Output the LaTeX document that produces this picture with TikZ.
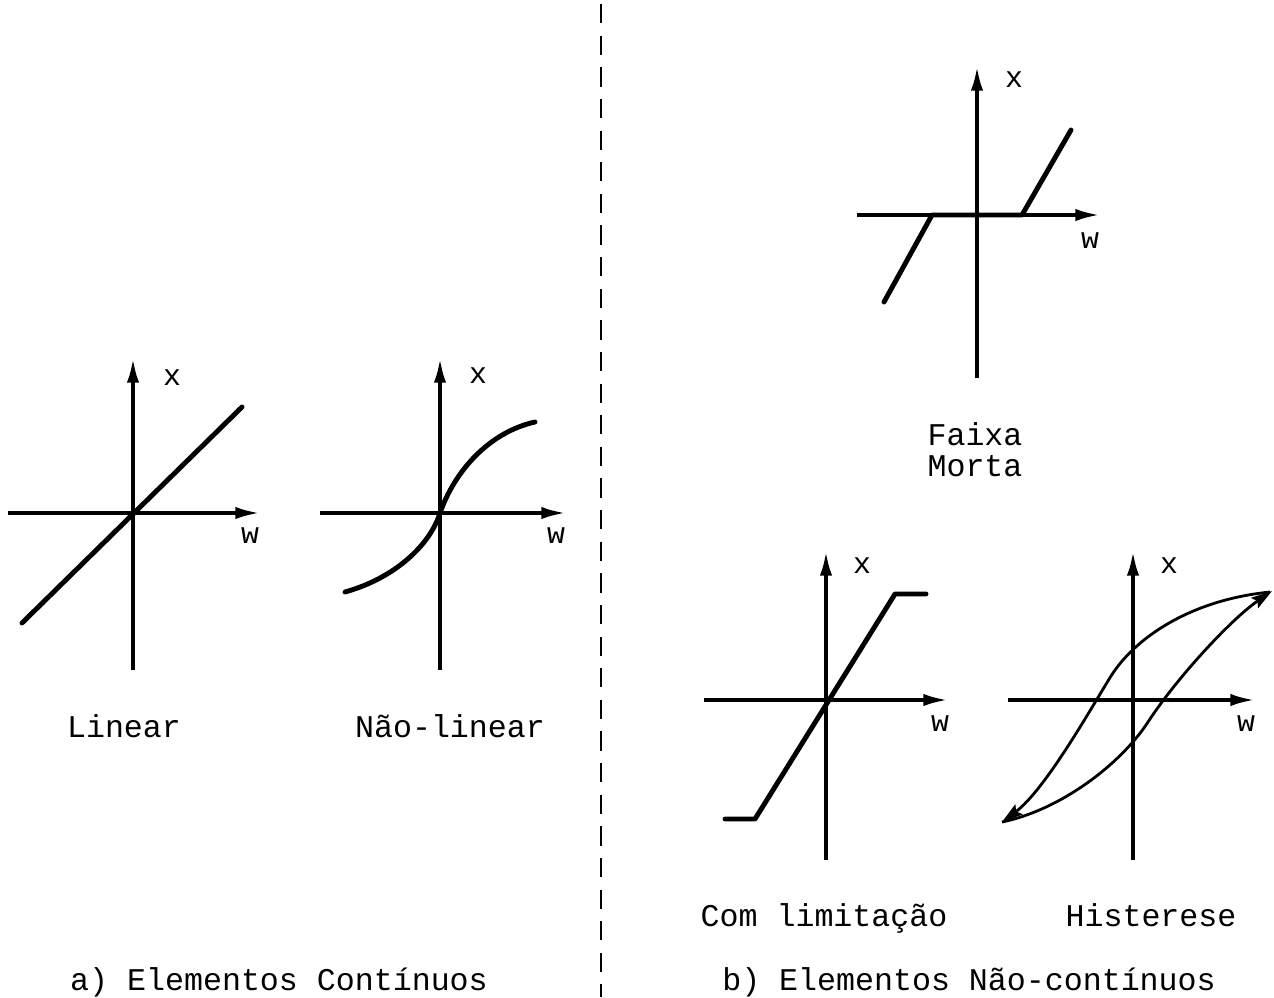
\documentclass[tikz,border=0pt]{standalone}
\usepackage{fontspec}
\setmainfont{Liberation Mono}
\usetikzlibrary{arrows.meta}
\tikzset{
  axis/.style={line width=2.1pt, -{Latex[length=14pt,width=7pt]}},
  curve/.style={line width=2.8pt, line cap=round, line join=round},
  loop/.style={line width=1.6pt, -{Stealth[length=12pt,width=7pt,inset=2pt]}},
  lbl/.style={font=\fontsize{18}{20}\selectfont, inner sep=0pt, anchor=base},
  ax/.style={font=\fontsize{17}{18}\selectfont, inner sep=0pt},
  divider/.style={line width=1.3pt, dash pattern=on 11pt off 7pt}
}
\begin{document}
\begin{tikzpicture}[x=0.02cm,y=-0.02cm]
\useasboundingbox (0,0) rectangle (1274,997);
% divider
\draw[divider] (601,4) -- (601,997);

% Linear
\draw[curve] (22,623) -- (242,407);
\draw[axis] (133,670) -- (133,358);
\draw[axis] (8,513) -- (260,513);
\node[ax] (lx) at (172,378) {x};
\node[ax] (lw) at (250,536) {w};
\node[lbl] (lin) at (124,737) {Linear};

% Nao-linear
\draw[curve] (345,592) .. controls (395,578) and (430,545) .. (440,513)
             .. controls (455,470) and (490,432) .. (535,422);
\draw[axis] (440,670) -- (440,358);
\draw[axis] (320,513) -- (566,513);
\node[ax] (nx) at (478,376) {x};
\node[ax] (nw) at (556,536) {w};
\node[lbl] (nlin) at (450,737) {Não-linear};

% Faixa morta
\draw[curve] (884,302) -- (932,215) -- (1022,215) -- (1071,130);
\draw[axis] (977,378) -- (977,66);
\draw[axis] (857,215) -- (1100,215);
\node[ax] (fx) at (1014,80) {x};
\node[ax] (fw) at (1090,241) {w};
\node[lbl] (fm) at (975,445) {Faixa};
\node[lbl] (fm2) at (975,476) {Morta};

% Com limitacao
\draw[curve] (725,819) -- (755,819) -- (895,594) -- (926,594);
\draw[axis] (826,860) -- (826,551);
\draw[axis] (704,700) -- (948,700);
\node[ax] (cx) at (862,566) {x};
\node[ax] (cw) at (940,724) {w};
\node[lbl] (cl) at (824,926) {Com limitação};

% Histerese
\draw[axis] (1133,860) -- (1133,551);
\draw[axis] (1008,700) -- (1255,700);
\draw[loop] (1270,592) .. controls (1190,600) and (1135,638) .. (1111,676)
            .. controls (1090,710) and (1045,790) .. (1002,822);
\draw[loop] (1002,822) .. controls (1060,810) and (1120,765) .. (1148,722)
            .. controls (1176,679) and (1230,620) .. (1272,591);
\node[ax] (hx) at (1169,566) {x};
\node[ax] (hw) at (1246,724) {w};
\node[lbl] (hi) at (1151,926) {Histerese};

% captions
\node[lbl] (ca) at (279,990) {a) Elementos Contínuos};
\node[lbl] (cb) at (969,990) {b) Elementos Não-contínuos};
\end{tikzpicture}
\end{document}
